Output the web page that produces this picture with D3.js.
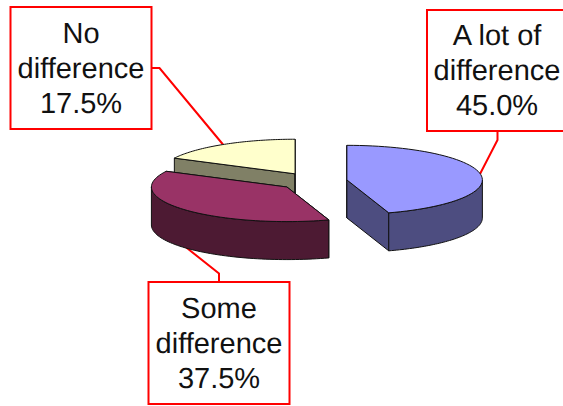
<!DOCTYPE html>
<html>
<head>
<meta charset="utf-8">
<script src="https://cdn.jsdelivr.net/npm/d3@7"></script>
<style>
  html, body { margin: 0; padding: 0; background: #fff; overflow: hidden; }
  svg { display: block; }
  text { font-family: "Liberation Sans", Arial, sans-serif; font-size: 29px; fill: #111; text-anchor: middle; text-rendering: geometricPrecision; }
</style>
</head>
<body>
<svg id="chart" width="563" height="406"></svg>
<script>
// Survey shares, clockwise from twelve o'clock
const categories = [["A lot of", "difference"], ["Some", "difference"], ["No", "difference"]];
const values = [45.0, 37.5, 17.5];
const topColors = ["#9999FF", "#993366", "#FFFFCC"];
const sideColors = ["#4D4D80", "#4D1A33", "#808066"];

// Label box and leader placement for each slice
const boxes = [
  { x: 427, y: 10, w: 142, h: 121, baseline: 45 },
  { x: 148.5, y: 282, w: 141, h: 122, baseline: 318 },
  { x: 10.5, y: 7, w: 141, h: 122, baseline: 43 }
];
const leaders = [
  [[497.5, 131], [497.5, 140], [480, 174]],
  [[219, 282], [219, 273.5], [185, 246.5]],
  [[152, 68], [159.5, 68], [223, 144.5]]
];

// Tilted pie geometry
const cx = 313, cy = 181.3, rx = 135.5, ry = 34.6, depth = 38, explode = 34.3;
const tilt = ry / rx;

const svg = d3.select("#chart");
const slices = d3.pie().sort(null).value(d => d)(values);

const line = d3.line();
const arcPoints = (a0, a1, c, dy = 0) =>
  d3.range(0, 61).map(i => {
    const a = a0 + (a1 - a0) * i / 60;
    return [c[0] + rx * Math.sin(a), c[1] - ry * Math.cos(a) + dy];
  });

const centers = slices.map(s => {
  const mid = (s.startAngle + s.endAngle) / 2;
  return [cx + explode * Math.sin(mid), cy - explode * tilt * Math.cos(mid)];
});

const wallStyle = (sel, fill) => sel
  .attr("fill", fill).attr("stroke", "#111").attr("stroke-width", 1).attr("stroke-linejoin", "round");

// Leaders sit under the pie so they stop at its rim
svg.append("g").selectAll("path").data(leaders).join("path")
  .attr("d", d => line(d))
  .attr("fill", "none").attr("stroke", "#FF0000").attr("stroke-width", 2);

// Back to front: the pale slice, then the dark one overlapping it, then the blue one
[2, 1, 0].forEach(i => {
  const s = slices[i], c = centers[i], g = svg.append("g");
  const p0 = arcPoints(s.startAngle, s.startAngle, c)[0];
  const p1 = arcPoints(s.endAngle, s.endAngle, c)[0];

  // Cut faces running from the centre out to each slice edge
  [p0, p1].forEach(p => {
    g.append("path")
      .attr("d", line([c, p, [p[0], p[1] + depth], [c[0], c[1] + depth]]) + "Z")
      .call(wallStyle, sideColors[i]);
  });

  // Outer wall along the part of the rim facing the viewer
  const lo = Math.max(s.startAngle, Math.PI / 2);
  const hi = Math.min(s.endAngle, Math.PI * 1.5);
  if (hi > lo) {
    const upper = arcPoints(lo, hi, c);
    const lower = arcPoints(lo, hi, c, depth).reverse();
    g.append("path").attr("d", line(upper.concat(lower)) + "Z").call(wallStyle, sideColors[i]);
  }

  // Top face
  g.append("path")
    .attr("d", line([c].concat(arcPoints(s.startAngle, s.endAngle, c))) + "Z")
    .call(wallStyle, topColors[i]);
});

// Label boxes
const labels = svg.append("g").selectAll("g").data(slices).join("g");
labels.append("rect")
  .attr("x", (d, i) => boxes[i].x).attr("y", (d, i) => boxes[i].y)
  .attr("width", (d, i) => boxes[i].w).attr("height", (d, i) => boxes[i].h)
  .attr("fill", "#fff").attr("stroke", "#FF0000").attr("stroke-width", 2);
labels.each(function (d, i) {
  const rows = categories[i].concat(d.value.toFixed(1) + "%");
  const b = boxes[i];
  d3.select(this).selectAll("text").data(rows).join("text")
    .attr("x", b.x + b.w / 2 - (i === 0 ? 1 : 0))
    .attr("y", (r, k) => b.baseline + k * 35.2)
    .text(r => r);
});
</script>
</body>
</html>
